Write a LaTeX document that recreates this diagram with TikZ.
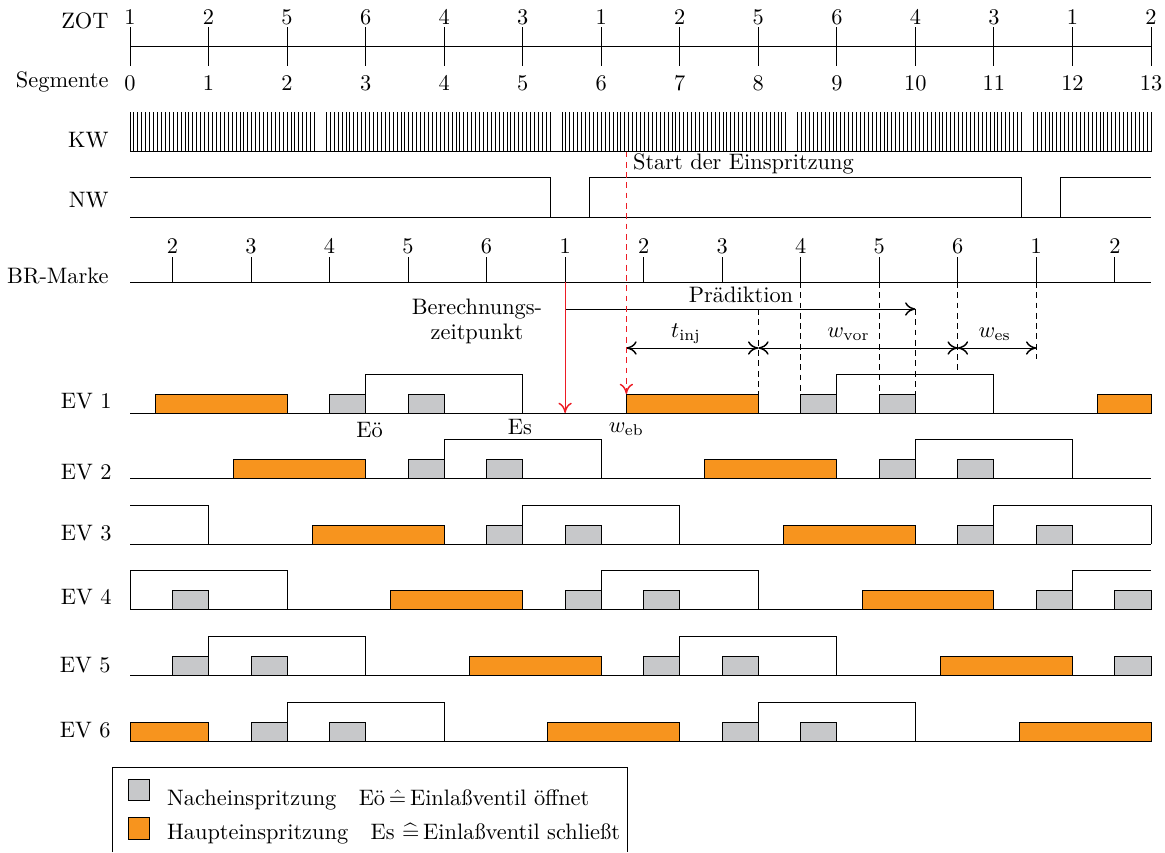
\documentclass[tikz,border=0pt]{standalone}
\usepackage{fontspec}
\usepackage{amsmath}
\usetikzlibrary{arrows.meta}

\definecolor{injmain}{RGB}{247,148,30}
\definecolor{injpost}{RGB}{199,200,202}
\definecolor{markred}{RGB}{237,28,36}

\tikzset{
  lbl/.style={inner sep=0pt},
  rowlbl/.style={lbl, anchor=east},
  mainbox/.style={draw=black, fill=injmain},
  postbox/.style={draw=black, fill=injpost},
  valve/.style={draw=black},
  guide/.style={dash pattern=on 2.6pt off 2pt},
}

% one injector row: baseline y, main injections, post injections, valve openings
\newcommand{\evrow}[4]{%
  \foreach \va/\vb in {#4} {\draw[valve] (\va,#1) |- (\vb,#1-39) -- (\vb,#1);}
  \foreach \va/\vb in {#2} {\draw[mainbox] (\va,#1-19) rectangle (\vb,#1);}
  \foreach \va/\vb in {#3} {\draw[postbox] (\va,#1-19) rectangle (\vb,#1);}
  \draw (0,#1) -- (13,#1);
}

\begin{document}
\begin{tikzpicture}[x=0.447pt, y=-0.447pt, line width=0.4pt,
  >={Computer Modern Rightarrow[length=4.6pt,width=6pt,line width=0.65pt]}]
\useasboundingbox (0,0) rectangle (1165,852);

% signal names
\node[rowlbl] (lZOT) at (109,20.5) {ZOT};
\node[rowlbl] (lSeg) at (109,81.5) {Segmente};
\node[rowlbl] (lKW)  at (109,140) {KW};
\node[rowlbl] (lNW)  at (109,200.5) {NW};
\node[rowlbl] (lBR)  at (109,275.5) {BR-Marke};
\node[rowlbl] (lEV1) at (112,401.5) {EV 1};
\node[rowlbl] (lEV2) at (112,472) {EV 2};
\node[rowlbl] (lEV3) at (112,533) {EV 3};
\node[rowlbl] (lEV4) at (112,597.5) {EV 4};
\node[rowlbl] (lEV5) at (111,665) {EV 5};
\node[rowlbl] (lEV6) at (111,730) {EV 6};

% time axis: one unit = one segment
\begin{scope}[shift={(130,0)}, x=35.107pt]
  % ZOT / segment scale
  \draw (0,46) -- (13,46);
  \foreach \s/\z in {0/1,1/2,2/5,3/6,4/4,5/3,6/1,7/2,8/5,9/6,10/4,11/3,12/1,13/2} {
    \draw (\s,27) -- (\s,66);
    \node[lbl] (zot\s) at (\s,17) {\z};
    \node[lbl] (seg\s) at (\s,83) {\s};
  }

  % crankshaft wheel, 60-2 teeth
  \draw (0,151.5) -- (13,151.5);
  \foreach \k in {0,...,260} {
    \pgfmathtruncatemacro\tooth{mod(\k,60)}
    \ifnum\tooth<48 \draw (\k*0.05,112) -- (\k*0.05,151.5);\fi
    \ifnum\tooth>49 \draw (\k*0.05,112) -- (\k*0.05,151.5);\fi
  }

  % camshaft signal
  \draw (0,217) -- (13,217);
  \draw (0,177) -- (5.35,177) -- (5.35,217);
  \draw (5.85,217) -- (5.85,177) -- (11.35,177) -- (11.35,217);
  \draw (11.85,217) -- (11.85,177) -- (13,177);

  % reference marks
  \draw (0,282) -- (13,282);
  \foreach \i/\b in {0/2,1/3,2/4,3/5,4/6,5/1,6/2,7/3,8/4,9/5,10/6,11/1,12/2} {
    \draw (\i+0.54,257) -- (\i+0.54,282);
    \node[lbl] (br\i) at (\i+0.54,246) {\b};
  }

  % calculation instant and start of injection
  \coordinate (calc) at (5.54,282);
  \coordinate (calcEnd) at (5.54,413);
  \coordinate (soi) at (6.32,151.5);
  \coordinate (soiEnd) at (6.32,394);
  \node[lbl, align=center] (calcText) at (4.418,321.5) {Berechnungs-\\[-1pt]zeitpunkt};
  \node[lbl, anchor=base west] (soiText) at (6.40,169) {Start der Einspritzung};

  % prediction horizon
  \coordinate (predA) at (5.54,309);
  \coordinate (predB) at (10,309);
  \draw[->] (predA) -- (predB);
  \node[lbl] (predText) at (7.78,294.5) {Prädiktion};

  % angle windows
  \coordinate (dA) at (6.32,348);
  \coordinate (dB) at (8,348);
  \coordinate (dC) at (10.54,348);
  \coordinate (dD) at (11.54,348);
  \draw[<->] (dA) -- (dB);
  \draw[<->] (dB) -- (dC);
  \draw[<->] (dC) -- (dD);
  \node[lbl, anchor=base] (tinj) at (7.08,337) {$t_{\mathrm{inj}}$};
  \node[lbl, anchor=base] (wvor) at (9.148,337) {$w_{\mathrm{vor}}$};
  \node[lbl, anchor=base] (wes)  at (11.01,337) {$w_{\mathrm{es}}$};

  % guide lines
  \draw[guide] (8,309) -- (8,394);
  \draw[guide] (8.54,282) -- (8.54,394);
  \draw[guide] (9.54,282) -- (9.54,394);
  \draw[guide] (10,309) -- (10,394);
  \draw[guide] (10.54,282) -- (10.54,374);
  \draw[guide] (11.54,282) -- (11.54,359);

  % injector rows
  \evrow{413}{0.32/2, 6.32/8, 12.32/13}{2.54/3, 3.54/4, 8.54/9, 9.54/10}{3/5, 9/11}
  \evrow{478.6}{1.32/3, 7.32/9}{3.54/4, 4.54/5, 9.54/10, 10.54/11}{4/6, 10/12}
  \draw[valve] (0,505.2) -- (1,505.2) -- (1,544.2);
  \evrow{544.2}{2.32/4, 8.32/10}{4.54/5, 5.54/6, 10.54/11, 11.54/12}{5/7, 11/13}
  \draw[valve] (12,609.8) -- (12,570.8) -- (13,570.8);
  \evrow{609.8}{3.32/5, 9.32/11}{0.54/1, 5.54/6, 6.54/7, 11.54/12, 12.54/13}{0/2, 6/8}
  \evrow{675.4}{4.32/6, 10.32/12}{0.54/1, 1.54/2, 6.54/7, 7.54/8, 12.54/13}{1/3, 7/9}
  \evrow{741}{0/1, 5.32/7, 11.32/13}{1.54/2, 2.54/3, 7.54/8, 8.54/9}{2/4, 8/10}

  % red markers on top
  \draw[markred, ->] (calc) -- (calcEnd);
  \draw[markred, guide, ->] (soi) -- (soiEnd);

  % valve event labels
  \node[lbl] (eoe) at (3.05,430.5) {Eö};
  \node[lbl] (es)  at (4.966,427.5) {Es};
  \node[lbl, anchor=base] (web) at (6.32,432) {$w_{\mathrm{eb}}$};
\end{scope}

% key
\draw (112,852) |- (627,767) -- (627,852);
\draw[postbox] (128,779) rectangle (149,800);
\draw[mainbox] (128,817) rectangle (149,839);
\node[lbl, anchor=base west] (keyPost) at (166.7,805) {Nacheinspritzung\quad Eö\,$\hat{=}$\,Einlaßventil öffnet};
\node[lbl, anchor=base west] (keyMain) at (166.7,839) {Haupteinspritzung\quad Es $\widehat{=}$\,Einlaßventil schließt};
\end{tikzpicture}
\end{document}
